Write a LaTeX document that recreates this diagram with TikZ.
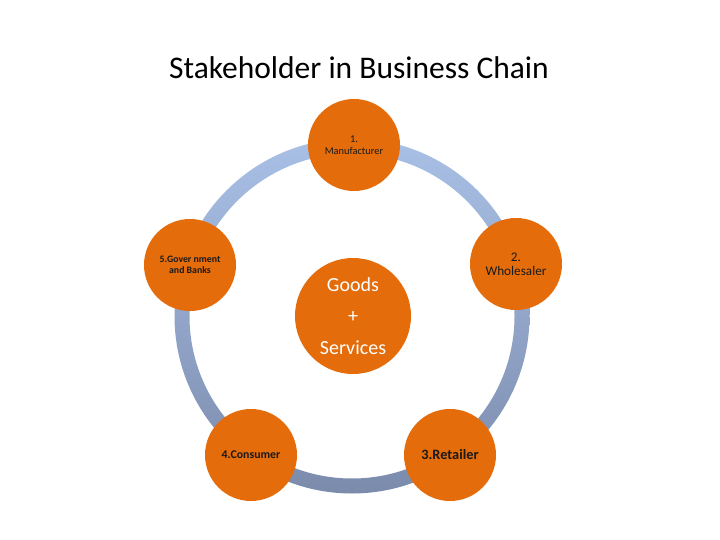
\documentclass[tikz,border=0pt]{standalone}
\usepackage{fontspec}
\setmainfont{Carlito}
\definecolor{orng}{HTML}{E46C0A}
\definecolor{ringtop}{HTML}{A9C0E6}
\definecolor{ringbot}{HTML}{7B8BAC}
\definecolor{txt}{HTML}{1A1A1A}
\begin{document}
\begin{tikzpicture}[x=1pt,y=-1pt,
  stake/.style={circle,fill=orng,minimum size=92pt,inner sep=0pt,align=center,text=txt},
  hub/.style={circle,fill=orng,minimum size=116pt,inner sep=0pt,align=center,text=white}]
\useasboundingbox (0,0) rectangle (720,540);
\node[font=\fontsize{31.5}{36}\selectfont] (title) at (359,68) {Stakeholder in Business Chain};
\coordinate (c) at (352,316);
\shade[top color=ringtop,bottom color=ringbot,even odd rule] (c) circle (177.5) (c) circle (162.5);
\node[hub,font=\fontsize{20}{31.5}\selectfont] (hub) at (353,316) {Goods\\+\\Services};
\node[stake,font=\fontsize{10.4}{12}\selectfont] (man) at (354,145) {1.\\Manufacturer};
\node[stake,font=\fontsize{13.2}{14}\selectfont] (whs) at (516,264) {2.\\Wholesaler};
\node[stake,font=\bfseries\fontsize{14.3}{15}\selectfont] (ret) at (450,455) {3.Retailer};
\node[stake,font=\bfseries\fontsize{11.8}{13}\selectfont] (con) at (251,455) {4.Consumer};
\node[stake,font=\bfseries\fontsize{9.8}{11}\selectfont] (gov) at (190,265) {5.Gover nment\\and Banks};
\end{tikzpicture}
\end{document}
